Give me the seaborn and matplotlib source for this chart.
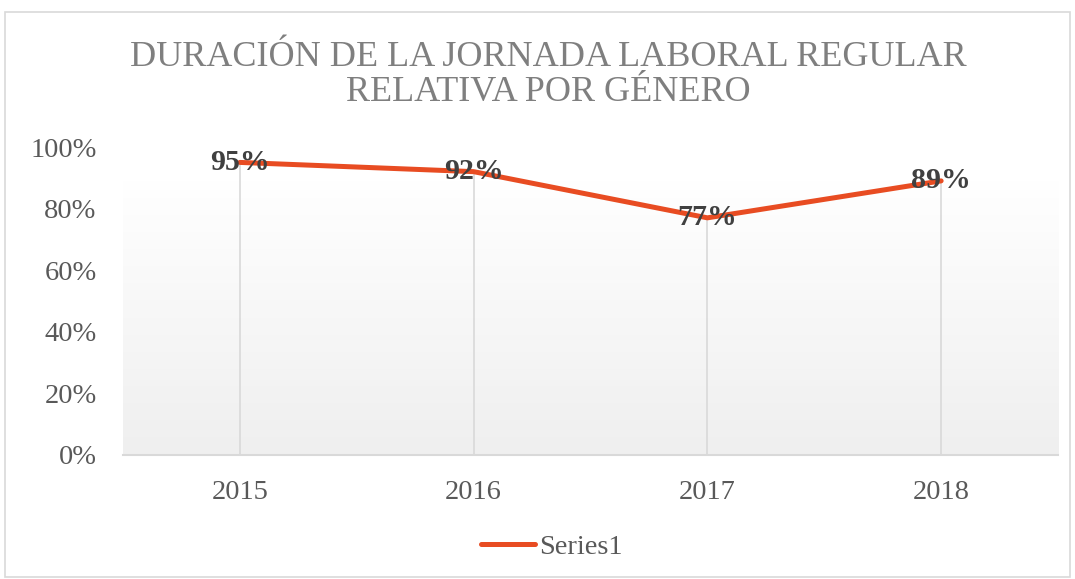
import matplotlib
matplotlib.use("Agg")
import matplotlib.pyplot as plt
import seaborn as sns
import numpy as np
import pandas as pd

# chart data
years = ["2015", "2016", "2017", "2018"]
values = [0.95, 0.92, 0.77, 0.89]
series_name = "Series1"
title = "DURACIÓN DE LA JORNADA LABORAL REGULAR\nRELATIVA POR GÉNERO"

df = pd.DataFrame({"year": years, "value": values, "series": series_name})

sns.set_theme(style="white")
plt.rcParams["font.family"] = ["Liberation Serif", "DejaVu Serif"]

line_color = "#E84C22"
text_gray = "#595959"

fig = plt.figure(figsize=(10.75, 5.79), dpi=100)
ax = fig.add_axes([0.1144, 0.2142, 0.8698, 0.5319])

# light gradient behind the plot area
grad = np.linspace(0, 1, 256).reshape(-1, 1)
cmap = matplotlib.colors.LinearSegmentedColormap.from_list("bg", ["#efefef", "#ffffff"])
ax.imshow(grad, cmap=cmap, origin="lower", aspect="auto",
          extent=(-0.5, len(years) - 0.5, 0, 0.89), zorder=0)

# drop lines
ax.vlines(range(len(years)), 0, values, color="#d9d9d9", lw=1.2, zorder=1)

sns.lineplot(data=df, x="year", y="value", hue="series", palette=[line_color],
             lw=3.6, ax=ax, zorder=3, solid_capstyle="round", sort=False)

for i, v in enumerate(values):
    ax.text(i, v, f"{v:.0%}", ha="center", va="center", fontsize=21.5,
            fontweight="bold", color="#404040", zorder=4)

ax.set_xlim(-0.5, len(years) - 0.5)
ax.set_ylim(0, 1.0)
ax.set_yticks(np.arange(0, 1.01, 0.2))
ax.set_yticklabels([f"{int(t * 100)}%" for t in np.arange(0, 1.01, 0.2)])
ax.tick_params(axis="both", labelsize=20.5, colors=text_gray, length=0)
ax.tick_params(axis="x", pad=18)
ax.tick_params(axis="y", pad=19)
ax.set_xlabel("")
ax.set_ylabel("")
for s in ["top", "right", "left"]:
    ax.spines[s].set_visible(False)
ax.spines["bottom"].set_color("#d9d9d9")
ax.spines["bottom"].set_linewidth(1.5)
ax.set_facecolor("white")

ax.legend(loc="center", bbox_to_anchor=(0.513, 0.055), bbox_transform=fig.transFigure,
          frameon=False, fontsize=20.5, handlelength=1.9, handletextpad=0.15,
          labelcolor=text_gray)

fig.text(0.51, 0.871, title, ha="center", va="center", fontsize=26,
         color="#7f7f7f", linespacing=1.08)

# chart border
fig.patches.append(plt.Rectangle((0.005, 0.004), 0.99, 0.976, transform=fig.transFigure,
                                 fill=False, edgecolor="#d9d9d9", lw=1.2))

fig.savefig("out.png", dpi=100)
